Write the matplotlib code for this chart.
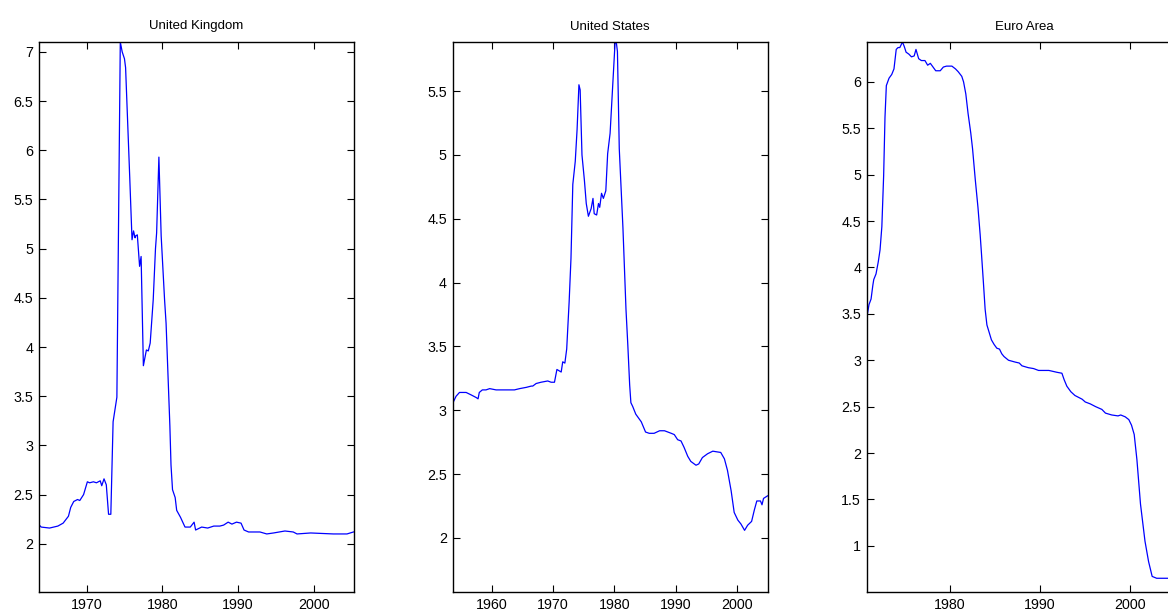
import matplotlib
matplotlib.use("Agg")
import matplotlib.pyplot as plt
import numpy as np
from matplotlib.ticker import FuncFormatter, MultipleLocator

plt.rcParams['font.family'] = ['Liberation Sans', 'DejaVu Sans']

# United Kingdom
uk_year = [1963.75, 1964.0, 1965.1, 1966.2, 1966.9, 1967.6, 1967.9, 1968.3, 1968.8, 1969.1,
           1969.6, 1970.1, 1970.4, 1970.9, 1971.3, 1971.8, 1972.0, 1972.3, 1972.6, 1972.9,
           1973.2, 1973.5, 1974.0, 1974.45, 1974.7, 1975.0, 1975.15, 1975.7, 1976.0, 1976.2,
           1976.4, 1976.5, 1976.7, 1977.0, 1977.2, 1977.5, 1977.9, 1978.15, 1978.4, 1978.8,
           1979.1, 1979.25, 1979.55, 1979.85, 1980.3, 1980.5, 1981.0, 1981.15, 1981.35, 1981.7,
           1981.9, 1982.4, 1983.0, 1983.7, 1984.2, 1984.4, 1985.2, 1986.0, 1986.8, 1987.6,
           1988.1, 1988.7, 1989.2, 1989.8, 1990.4, 1990.8, 1991.4, 1992.9, 1993.8, 1994.7,
           1996.2, 1997.3, 1997.8, 1999.6, 2002.6, 2004.4, 2005.25]
uk_val = [2.19, 2.17, 2.16, 2.18, 2.21, 2.28, 2.37, 2.43, 2.45, 2.44,
          2.50, 2.63, 2.62, 2.63, 2.62, 2.64, 2.59, 2.66, 2.60, 2.30,
          2.30, 3.24, 3.49, 7.10, 7.00, 6.93, 6.84, 5.72, 5.09, 5.18,
          5.11, 5.13, 5.14, 4.82, 4.92, 3.81, 3.97, 3.96, 4.04, 4.48,
          5.00, 5.16, 5.93, 5.13, 4.48, 4.24, 3.20, 2.80, 2.55, 2.47,
          2.34, 2.27, 2.17, 2.17, 2.22, 2.14, 2.17, 2.16, 2.18, 2.18,
          2.19, 2.22, 2.20, 2.22, 2.21, 2.14, 2.12, 2.12, 2.10, 2.11,
          2.13, 2.12, 2.10, 2.11, 2.10, 2.10, 2.12]

# United States
us_year = [1953.6, 1954.1, 1954.66, 1955.75, 1956.6, 1957.4, 1957.7, 1957.9, 1958.4, 1959.0,
           1959.6, 1960.65, 1962.3, 1963.65, 1964.5, 1965.6, 1966.4, 1966.65, 1967.2, 1968.0,
           1969.1, 1969.65, 1970.2, 1970.6, 1971.3, 1971.55, 1971.9, 1972.2, 1972.6, 1972.9,
           1973.2, 1973.6, 1973.9, 1974.2, 1974.4, 1974.7, 1975.1, 1975.4, 1975.75, 1976.2,
           1976.5, 1976.7, 1977.1, 1977.4, 1977.6, 1977.9, 1978.2, 1978.6, 1978.9, 1979.3,
           1979.7, 1980.1, 1980.3, 1980.5, 1980.8, 1981.4, 1981.9, 1982.2, 1982.5, 1982.7,
           1983.0, 1983.5, 1984.4, 1985.1, 1985.7, 1986.5, 1987.4, 1988.2, 1989.3, 1989.8,
           1990.35, 1990.9, 1991.4, 1992.0, 1992.5, 1993.35, 1993.8, 1994.4, 1995.25, 1996.1,
           1997.4, 1998.0, 1998.5, 1999.1, 1999.6, 2000.2, 2000.7, 2001.3, 2001.8, 2002.45,
           2002.9, 2003.3, 2003.9, 2004.15, 2004.4, 2005.05]
us_val = [3.06, 3.11, 3.14, 3.14, 3.12, 3.10, 3.09, 3.14, 3.16, 3.16,
          3.17, 3.16, 3.16, 3.16, 3.17, 3.18, 3.19, 3.19, 3.21, 3.22,
          3.23, 3.22, 3.22, 3.32, 3.30, 3.38, 3.37, 3.48, 3.85, 4.19,
          4.77, 4.95, 5.20, 5.55, 5.51, 5.00, 4.80, 4.62, 4.52, 4.58,
          4.66, 4.54, 4.53, 4.62, 4.59, 4.70, 4.66, 4.72, 5.01, 5.17,
          5.52, 5.87, 5.89, 5.81, 5.05, 4.43, 3.79, 3.51, 3.20, 3.06,
          3.03, 2.97, 2.91, 2.83, 2.82, 2.82, 2.84, 2.84, 2.82, 2.81,
          2.77, 2.76, 2.71, 2.64, 2.60, 2.57, 2.58, 2.63, 2.66, 2.68,
          2.67, 2.62, 2.53, 2.37, 2.20, 2.14, 2.11, 2.06, 2.10, 2.13,
          2.22, 2.29, 2.29, 2.26, 2.31, 2.33]

# Euro Area
ea_year = [1970.78, 1970.97, 1971.2, 1971.4, 1971.5, 1971.75, 1972.0, 1972.2, 1972.4, 1972.6,
           1972.75, 1972.9, 1973.2, 1973.5, 1973.75, 1974.0, 1974.2, 1974.4, 1974.7, 1974.9,
           1975.1, 1975.4, 1975.7, 1976.0, 1976.2, 1976.5, 1976.8, 1977.2, 1977.5, 1977.8,
           1978.1, 1978.4, 1978.9, 1979.25, 1979.6, 1980.2, 1980.6, 1980.9, 1981.3, 1981.5,
           1981.75, 1982.0, 1982.3, 1982.5, 1982.8, 1983.1, 1983.35, 1983.5, 1983.7, 1983.9,
           1984.1, 1984.35, 1984.6, 1984.9, 1985.2, 1985.5, 1985.75, 1986.0, 1986.5, 1987.25,
           1987.7, 1988.0, 1988.7, 1989.3, 1989.85, 1991.0, 1991.9, 1992.45, 1992.7, 1993.0,
           1993.45, 1993.9, 1994.7, 1995.05, 1995.6, 1996.2, 1996.9, 1997.3, 1998.0, 1998.7,
           1999.0, 1999.5, 1999.9, 2000.2, 2000.5, 2000.8, 2001.2, 2001.4, 2001.7, 2002.1,
           2002.5, 2003.0, 2004.3, 2005.5]
ea_val = [3.49, 3.60, 3.66, 3.81, 3.87, 3.93, 4.06, 4.19, 4.44, 4.99,
          5.62, 5.96, 6.04, 6.08, 6.14, 6.35, 6.37, 6.37, 6.43, 6.38,
          6.32, 6.30, 6.27, 6.28, 6.35, 6.25, 6.23, 6.23, 6.18, 6.20,
          6.16, 6.12, 6.12, 6.16, 6.17, 6.17, 6.14, 6.11, 6.06, 6.00,
          5.87, 5.66, 5.45, 5.28, 4.95, 4.65, 4.35, 4.14, 3.85, 3.55,
          3.38, 3.30, 3.22, 3.17, 3.13, 3.12, 3.07, 3.04, 3.00, 2.98,
          2.97, 2.94, 2.92, 2.91, 2.89, 2.89, 2.87, 2.86, 2.79, 2.72,
          2.66, 2.62, 2.58, 2.55, 2.53, 2.50, 2.47, 2.43, 2.41, 2.40,
          2.41, 2.39, 2.36, 2.30, 2.20, 1.93, 1.45, 1.29, 1.05, 0.83,
          0.67, 0.65, 0.65, 0.66]

titles = ["United Kingdom", "United States", "Euro Area"]
series = [(uk_year, uk_val), (us_year, us_val), (ea_year, ea_val)]
xlims = [(1963.75, 2005.3), (1953.6, 2005.05), (1970.78, 2005.8)]
ylims = [(1.51, 7.10), (1.577, 5.885), (0.502, 6.43)]
lefts = [39.3, 453.0, 867.3]

W, H = 1168, 614
fig = plt.figure(figsize=(W / 100, H / 100), dpi=100)
fig.patch.set_facecolor("white")

fmt = FuncFormatter(lambda v, p: "%g" % v)

for i in range(3):
    ax = fig.add_axes([lefts[i] / W, 22 / H, 314.5 / W, 550 / H])
    x, y = series[i]
    ax.plot(x, y, color="#0000ff", lw=0.9)
    ax.set_xlim(*xlims[i])
    ax.set_ylim(*ylims[i])
    ax.xaxis.set_major_locator(MultipleLocator(10))
    ax.yaxis.set_major_locator(MultipleLocator(0.5))
    ax.yaxis.set_major_formatter(fmt)
    ax.xaxis.set_major_formatter(fmt)
    ax.tick_params(direction="in", top=True, right=True, length=5, width=0.8,
                   labelsize=10.3, colors="black", pad=4.5)
    ax.tick_params(axis="y", pad=4.5)
    for s in ax.spines.values():
        s.set_linewidth(1.0)
    ax.set_title(titles[i], fontsize=9.5, pad=9)

fig.savefig("out.png", dpi=100, facecolor="white")
